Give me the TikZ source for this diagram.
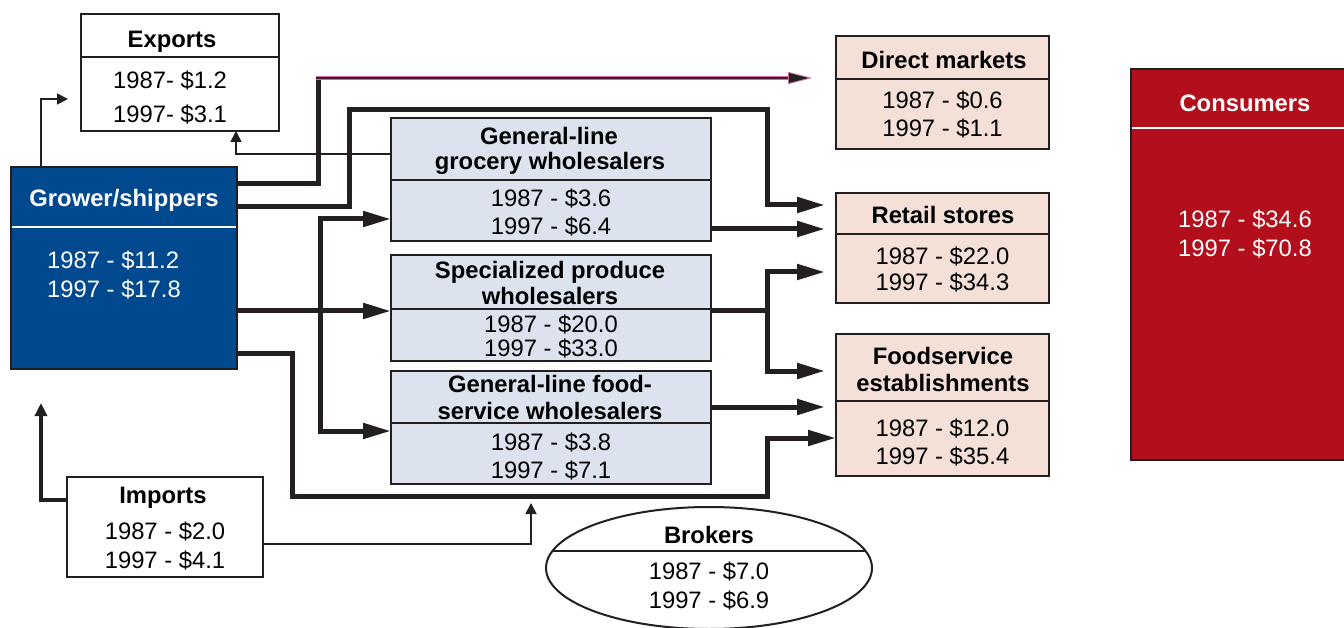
\documentclass[tikz,border=0pt]{standalone}
\usepackage{fontspec}
\setmainfont{Liberation Sans}
\usetikzlibrary{arrows.meta,shapes.geometric}
\definecolor{growerblue}{RGB}{0,73,143}
\definecolor{consred}{RGB}{178,14,28}
\definecolor{wholeblue}{RGB}{220,226,238}
\definecolor{retailpeach}{RGB}{245,224,216}
\definecolor{edgecol}{RGB}{35,31,32}
\definecolor{purpdark}{RGB}{70,25,50}
\definecolor{purppink}{RGB}{205,110,160}
\begin{document}
\begin{tikzpicture}[x=1pt,y=-1pt,
  box/.style={draw=edgecol, line width=2pt, inner sep=0pt, outer sep=0pt},
  wbox/.style={box, fill=white},
  bbox/.style={box, fill=wholeblue},
  pbox/.style={box, fill=retailpeach},
  tl/.style={anchor=base, inner sep=0pt, font=\fontsize{23.8}{27}\selectfont\bfseries},
  vl/.style={anchor=base, inner sep=0pt, font=\fontsize{23.8}{27}\selectfont},
  divl/.style={draw=edgecol, line width=1.3pt},
  wdivl/.style={draw=white, line width=1.5pt},
  thk/.style={draw=edgecol, line width=5pt, line join=miter},
  bigtip/.tip={Triangle[length=28pt,width=15pt]},
  thn/.style={draw=edgecol, line width=1.8pt},
  smalltip/.tip={Triangle[length=11pt,width=11pt]},
  midtip/.tip={Triangle[length=13pt,width=12pt]}
]
\useasboundingbox (0,0) rectangle (1344,628);

% ---------- boxes ----------
\node[wbox, minimum width=198pt, minimum height=117pt] (exports) at (180,72.5) {};
\node[box, fill=growerblue, minimum width=226pt, minimum height=202pt] (grower) at (124,268) {};
\node[bbox, minimum width=320pt, minimum height=123pt] (glg) at (551,179.5) {};
\node[bbox, minimum width=320pt, minimum height=106pt] (spec) at (551,308) {};
\node[bbox, minimum width=320pt, minimum height=113pt] (glfs) at (551,427.5) {};
\node[pbox, minimum width=213pt, minimum height=113pt] (direct) at (942.5,93) {};
\node[pbox, minimum width=213pt, minimum height=110pt] (retail) at (942.5,248) {};
\node[pbox, minimum width=213pt, minimum height=142pt] (food) at (942.5,405) {};
\node[box, fill=consred, minimum width=216pt, minimum height=391pt] (cons) at (1239,264.5) {};
\node[wbox, minimum width=196pt, minimum height=100pt] (imports) at (165,527) {};
\node[ellipse, draw=edgecol, line width=2pt, fill=white, inner sep=0pt, minimum width=326pt, minimum height=122pt] (brokers) at (709,568) {};

% ---------- dividers ----------
\draw[divl] (exports.west |- 0,57) -- (exports.east |- 0,57);
\draw[wdivl] ([xshift=1pt]grower.west |- 0,227) -- ([xshift=-1pt]grower.east |- 0,227);
\draw[divl] (glg.west |- 0,180) -- (glg.east |- 0,180);
\draw[divl] (spec.west |- 0,309) -- (spec.east |- 0,309);
\draw[divl] (glfs.west |- 0,423) -- (glfs.east |- 0,423);
\draw[divl] (direct.west |- 0,79) -- (direct.east |- 0,79);
\draw[divl] (retail.west |- 0,234) -- (retail.east |- 0,234);
\draw[divl] (food.west |- 0,401) -- (food.east |- 0,401);
\draw[wdivl] ([xshift=1pt]cons.west |- 0,128) -- (cons.east |- 0,128);
\draw[divl] (552.5,551) -- (865.5,551);

% ---------- texts ----------
\node[tl] (exportsT) at (172,48) {Exports};
\node[vl] at (170,89) {1987- \$1.2};
\node[vl] at (170,123) {1997- \$3.1};

\node[tl, text=white] (growerT) at (124,207) {Grower/shippers};
\node[vl, text=white, anchor=base west] at (47,269) {1987 - \$11.2};
\node[vl, text=white, anchor=base west] at (47,298) {1997 - \$17.8};

\node[tl] at (549,145) {General-line};
\node[tl] at (550,170) {grocery wholesalers};
\node[vl] at (551,207) {1987 - \$3.6};
\node[vl] at (551,235) {1997 - \$6.4};

\node[tl] at (550,279) {Specialized produce};
\node[tl] at (550,305) {wholesalers};
\node[vl] at (551,333) {1987 - \$20.0};
\node[vl] at (551,356) {1997 - \$33.0};

\node[tl] at (550,392) {General-line food-};
\node[tl] at (550,419) {service wholesalers};
\node[vl] at (551,450) {1987 - \$3.8};
\node[vl] at (551,478) {1997 - \$7.1};

\node[tl] at (944,69) {Direct markets};
\node[vl] at (942.5,109) {1987 - \$0.6};
\node[vl] at (942.5,137) {1997 - \$1.1};

\node[tl] at (943,224) {Retail stores};
\node[vl] at (942.5,265) {1987 - \$22.0};
\node[vl] at (942.5,291) {1997 - \$34.3};

\node[tl] at (943,364) {Foodservice};
\node[tl] at (943,391) {establishments};
\node[vl] at (942.5,436) {1987 - \$12.0};
\node[vl] at (942.5,464) {1997 - \$35.4};

\node[tl, text=white] at (1245,112) {Consumers};
\node[vl, text=white] at (1245,228) {1987 - \$34.6};
\node[vl, text=white] at (1245,257) {1997 - \$70.8};

\node[tl] at (163,503) {Imports};
\node[vl] at (165,539) {1987 - \$2.0};
\node[vl] at (165,568) {1997 - \$4.1};

\node[tl] at (709,543) {Brokers};
\node[vl] at (709,579) {1987 - \$7.0};
\node[vl] at (709,608) {1997 - \$6.9};

% ---------- free ends ----------
\coordinate (expstub) at (68,99);
\coordinate (impstub) at (41,403);
\coordinate (brokstub) at (531,503);
\coordinate (purpcorner) at (318,78);

% ---------- connectors ----------
% grower -> direct markets (thick rise, then thin purple run)
\draw[thk] (grower.east |- 0,184) -- (318,184) -- ([yshift=-2pt]purpcorner);
\draw[draw=purppink, line width=3.4pt] ([xshift=-2.5pt]purpcorner) -- ([xshift=-36pt]direct.west |- 0,78);
\draw[draw=purpdark, line width=1.6pt, -{Triangle[length=24pt,width=12pt,color=purppink,fill=edgecol,line width=0.8pt]}] ([xshift=-2.5pt]purpcorner) -- ([xshift=-24pt]direct.west |- 0,78);

% grower -> retail (over the top)
\draw[thk, -bigtip] (grower.east |- 0,207) -- (349,207) -- (349,110) -- (767,110) -- (767,205) -- ([xshift=-11pt]retail.west |- 0,205);
% grocery -> retail
\draw[thk, -bigtip] (glg.east |- 0,229) -- ([xshift=-11pt]retail.west |- 0,229);
% grower -> specialized
\draw[thk, -bigtip] (grower.east |- 0,311) -- (spec.west |- 0,311);
% branch to grocery and foodservice wholesalers
\draw[thk, bigtip-bigtip] (glg.west |- 0,219) -- (320,219) -- (320,431) -- (glfs.west |- 0,431);
% grower -> foodservice (bottom route)
\draw[thk, -bigtip] (grower.east |- 0,353) -- (292,353) -- (292,496) -- (767,496) -- (767,438) -- (food.west |- 0,438);
% specialized -> retail & foodservice
\draw[thk] (spec.east |- 0,311) -- (767,311);
\draw[thk, bigtip-bigtip] ([xshift=-11pt]retail.west |- 0,272) -- (767,272) -- (767,371) -- ([xshift=-11pt]food.west |- 0,371);
% food-service wholesalers -> foodservice
\draw[thk, -bigtip] (glfs.east |- 0,407) -- ([xshift=-11pt]food.west |- 0,407);

% imports
\draw[draw=edgecol, line width=3.5pt, line join=miter, -midtip] (imports.west |- 0,500) -- (41,500) -- (impstub);
\draw[thn, -smalltip] (imports.east |- 0,544) -- (531,544) -- (brokstub);
% exports
\draw[thn, -smalltip] (grower.north -| 41,0) -- (41,99) -- (expstub);
\draw[thn, -smalltip] (glg.west |- 0,154) -- (236,154) -- (exports.south -| 236,0);
\end{tikzpicture}
\end{document}
